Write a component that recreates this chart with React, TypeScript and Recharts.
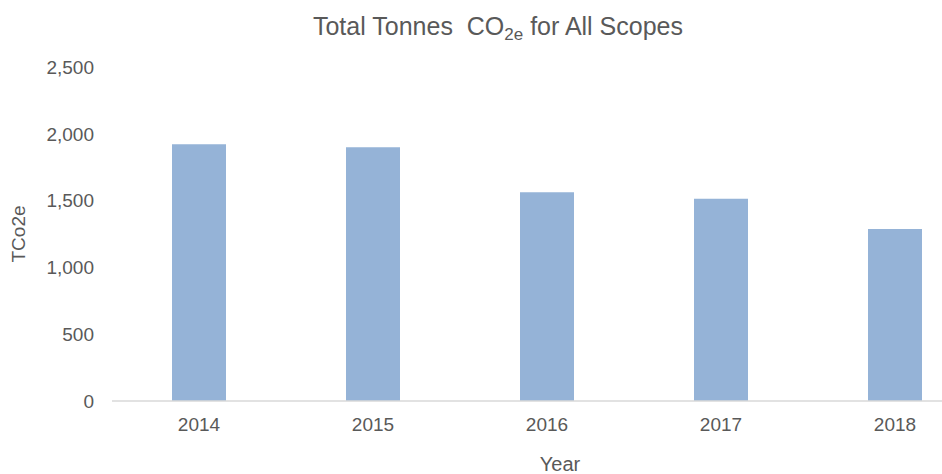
import React from 'react';
import { BarChart, Bar, XAxis, YAxis } from 'recharts';

// values
const years = ['2014', '2015', '2016', '2017', '2018'];
const tonnes = [1921, 1899, 1562, 1514, 1287];
const yTicks = [0, 500, 1000, 1500, 2000, 2500];

const data = years.map((year, i) => ({ year, total: tonnes[i] }));

const FONT = '"Liberation Sans", Arial, sans-serif';
const GREY = '#595959';

export default function App() {
  return (
    <div
      style={{
        position: 'fixed',
        left: 0,
        top: 0,
        width: 942,
        height: 474,
        overflow: 'hidden',
        background: '#fff',
        fontFamily: FONT,
      }}
    >
      {/* title sits centred on the (wider, cropped) chart */}
      <div
        style={{
          position: 'absolute',
          left: 0,
          top: 11,
          width: 996,
          textAlign: 'center',
          fontSize: 25,
          lineHeight: '30px',
          color: GREY,
        }}
      >
        Total Tonnes&nbsp; CO
        <sub style={{ fontSize: '0.68em', verticalAlign: '-0.3em', lineHeight: 0 }}>2e</sub> for All Scopes
      </div>

      <BarChart
        width={1000}
        height={474}
        data={data}
        margin={{ top: 67, right: 18, bottom: 0, left: 0 }}
        style={{ position: 'absolute', left: 0, top: 0 }}
      >
        <XAxis
          dataKey="year"
          height={73}
          axisLine={{ stroke: '#d9d9d9', strokeWidth: 1.5 }}
          tickLine={false}
          tickSize={0}
          tickMargin={17}
          tick={{ fill: GREY, fontSize: 19, fontFamily: FONT }}
          label={{
            value: 'Year',
            position: 'insideBottom',
            offset: 3,
            dx: 13,
            fill: GREY,
            fontSize: 20,
            fontFamily: FONT,
          }}
        />
        <YAxis
          width={112}
          domain={[0, 2500]}
          ticks={yTicks}
          axisLine={false}
          tickLine={false}
          tickSize={0}
          tickMargin={18}
          tickFormatter={(v: number) => v.toLocaleString('en-US')}
          tick={{ fill: GREY, fontSize: 19, fontFamily: FONT }}
          label={{
            value: 'TCo2e',
            angle: -90,
            position: 'insideLeft',
            offset: 18,
            fill: GREY,
            fontSize: 19,
            fontFamily: FONT,
            style: { textAnchor: 'middle' },
          }}
        />
        <Bar dataKey="total" fill="#95b3d7" barSize={54} isAnimationActive={false} />
      </BarChart>
    </div>
  );
}
